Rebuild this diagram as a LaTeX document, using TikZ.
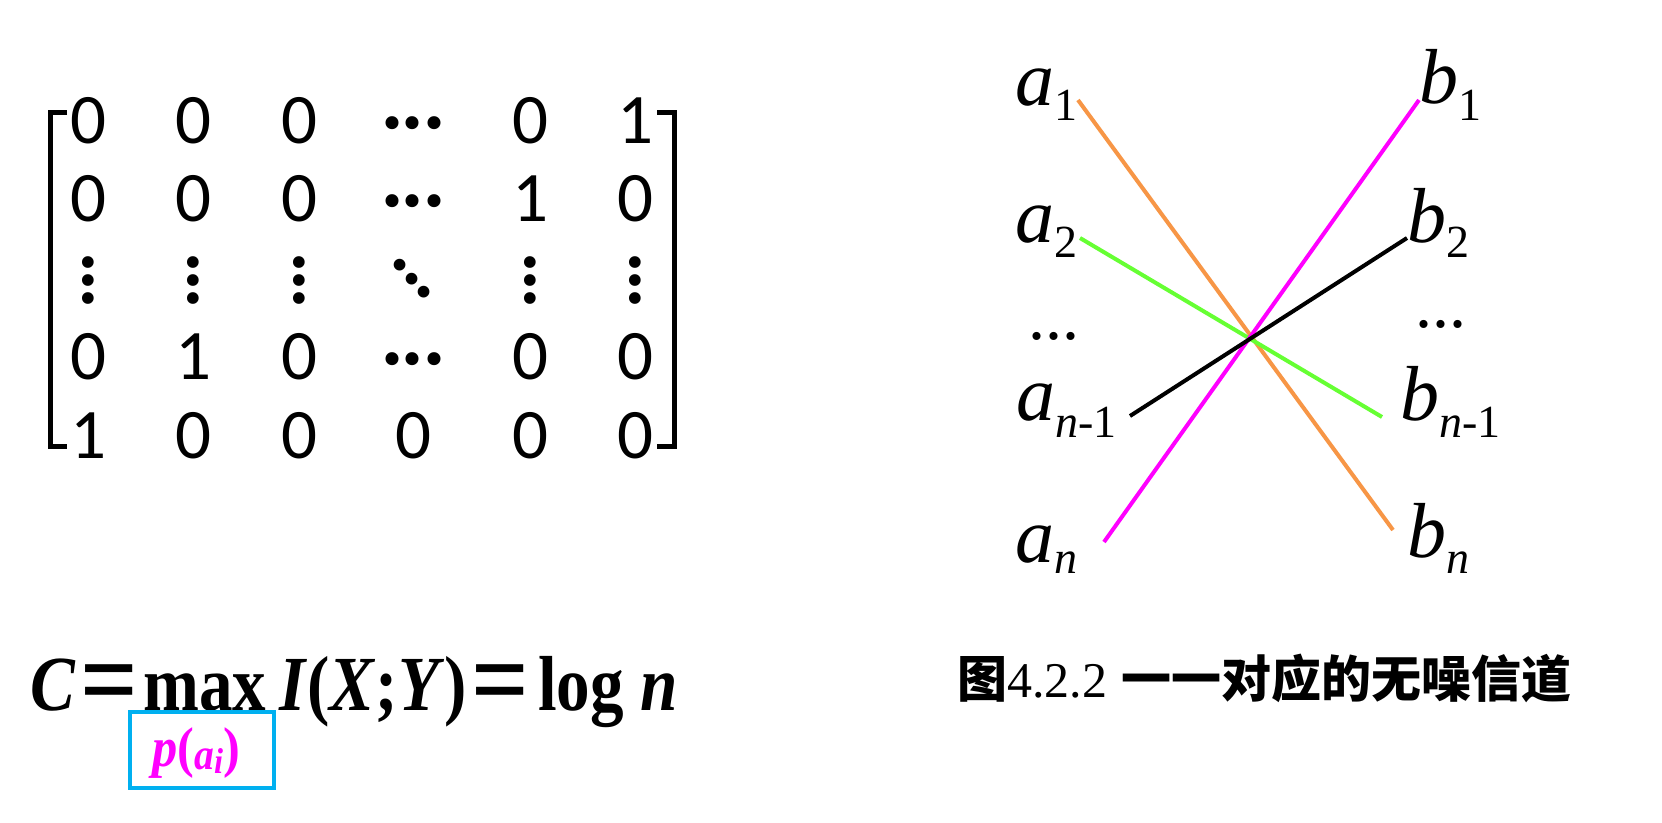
\documentclass[tikz,border=0pt]{standalone}
\usepackage{fontspec}
\setmainfont{Liberation Serif}
\newfontfamily\calfont{Carlito}
\newfontfamily\cjkfont{Noto Sans CJK SC}
\definecolor{lnorange}{RGB}{247,150,70}
\definecolor{lngreen}{RGB}{102,255,51}
\definecolor{lnmagenta}{RGB}{255,0,255}
\definecolor{boxcyan}{RGB}{0,176,240}
\newcommand{\lsub}[2][15pt]{\raisebox{-#1}{\fontsize{46}{46}\selectfont #2}}
\newcommand{\hdt}{.\kern1pt.\kern1pt.}
\begin{document}
\begin{tikzpicture}[x=1pt,y=-1pt,
  entry/.style={inner sep=0,font=\fontsize{71}{71}\selectfont\calfont},
  hdots/.style={inner sep=0,font=\fontsize{80}{80}\selectfont\bfseries},
  vdots/.style={inner sep=0,rotate=-90,font=\fontsize{72}{72}\selectfont\bfseries},
  ddots/.style={inner sep=0,rotate=-49,font=\fontsize{72}{72}\selectfont\bfseries},
  bracket/.style={line width=5pt},
  fpart/.style={inner sep=0,anchor=base west,text depth=0pt,font=\fontsize{78}{78}\selectfont\bfseries},
  feq/.style={inner sep=0,anchor=base,text depth=0pt,font=\fontsize{78}{78}\selectfont\bfseries},
  lab/.style={inner sep=0,anchor=base west,font=\fontsize{78}{78}\selectfont\itshape},
  ldots/.style={inner sep=0,anchor=base west,font=\fontsize{68}{68}\selectfont},
  chan/.style={line width=4pt},
]
\useasboundingbox[fill=white] (0,0) rectangle (1662,822);

% ---- matrix ----
\draw[bracket] (67,112) -- (50,112) -- (50,446) -- (67,446);
\draw[bracket] (657,112) -- (674,112) -- (674,446) -- (657,446);
\node[entry] (m11) at (88,121) {0};
\node[entry] (m12) at (193,121) {0};
\node[entry] (m13) at (299,121) {0};
\node[hdots] (m14) at (413,123) {\hdt};
\node[entry] (m15) at (530,121) {0};
\node[entry] (m16) at (635,121) {1};
\node[entry] (m21) at (88,199) {0};
\node[entry] (m22) at (193,199) {0};
\node[entry] (m23) at (299,199) {0};
\node[hdots] (m24) at (413,201) {\hdt};
\node[entry] (m25) at (530,199) {1};
\node[entry] (m26) at (635,199) {0};
\node[vdots] (m31) at (88,280) {...};
\node[vdots] (m32) at (193,280) {...};
\node[vdots] (m33) at (299,280) {...};
\node[ddots] (m34) at (412,279) {...};
\node[vdots] (m35) at (530,280) {...};
\node[vdots] (m36) at (635,280) {...};
\node[entry] (m41) at (88,357) {0};
\node[entry] (m42) at (193,357) {1};
\node[entry] (m43) at (299,357) {0};
\node[hdots] (m44) at (413,359) {\hdt};
\node[entry] (m45) at (530,357) {0};
\node[entry] (m46) at (635,357) {0};
\node[entry] (m51) at (88,436) {1};
\node[entry] (m52) at (193,436) {0};
\node[entry] (m53) at (299,436) {0};
\node[entry] (m54) at (413,436) {0};
\node[entry] (m55) at (530,436) {0};
\node[entry] (m56) at (635,436) {0};

% ---- formula ----
\node[fpart] (fC) at (30,710) {\scalebox{0.86}[1]{\itshape C}};
\node[feq] (feq1) at (109,710) {\raisebox{-7pt}{\scalebox{1.3}[1.45]{=}}};
\node[fpart] (fmax) at (143,710) {\scalebox{0.86}[1]{max}};
\node[fpart] (fI) at (279,710) {\scalebox{0.86}[1]{\textit{I}(\textit{X};\textit{Y})}};
\node[feq] (feq2) at (500,710) {\raisebox{-7pt}{\scalebox{1.3}[1.45]{=}}};
\node[fpart] (flog) at (538,710) {\scalebox{0.86}[1]{log}};
\node[fpart] (fn) at (640,710) {\scalebox{0.86}[1]{\itshape n}};
\node[draw=boxcyan, line width=4pt, minimum width=144pt, minimum height=76pt, inner sep=0] (pbox) at (202,750) {};
\node[anchor=base, inner sep=0, text=lnmagenta, font=\fontsize{56}{56}\selectfont\bfseries] (ptext) at (196,766)
  {\scalebox{0.9}[1]{\textit{p}(\raisebox{-3pt}{\fontsize{44}{44}\selectfont\textit{a}}\raisebox{-7pt}{\fontsize{36}{36}\selectfont\textit{i}})}};

% ---- channel diagram ----
\node[lab] (a1) at (1015,105) {a\lsub{\upshape 1}};
\node[lab] (a2) at (1015,242) {a\lsub{\upshape 2}};
\node[ldots] (adots) at (1028,339) {...};
\node[lab] (an1) at (1016,420) {a\lsub[17pt]{n\upshape -1}};
\node[lab] (an) at (1015,562) {a\lsub[11pt]{n}};
\node[lab] (b1) at (1419,103) {b\lsub[17pt]{\upshape 1}};
\node[lab] (b2) at (1407,242) {b\lsub{\upshape 2}};
\node[ldots] (bdots) at (1415,327) {...};
\node[lab] (bn1) at (1400,420) {b\lsub[17pt]{n\upshape -1}};
\node[lab] (bn) at (1407,557) {b\lsub[16pt]{n}};

\coordinate (o1) at (1078,100); \coordinate (o2) at (1393,530);
\coordinate (g1) at (1080,238); \coordinate (g2) at (1382,417);
\coordinate (p1) at (1104,542); \coordinate (p2) at (1419,100);
\coordinate (k1) at (1130,416); \coordinate (k2) at (1407,238);
\draw[chan, lnorange] (o1) -- (o2);
\draw[chan, lngreen] (g1) -- (g2);
\draw[chan, lnmagenta] (p1) -- (p2);
\draw[chan, black] (k1) -- (k2);

% ---- caption ----
\node[anchor=west, inner sep=0, font=\fontsize{50}{50}\selectfont] (cap) at (957,678)
  {{\cjkfont\bfseries 图}4.2.2\hspace{14pt}{\cjkfont\bfseries 一一对应的无噪信道}};
\end{tikzpicture}
\end{document}
